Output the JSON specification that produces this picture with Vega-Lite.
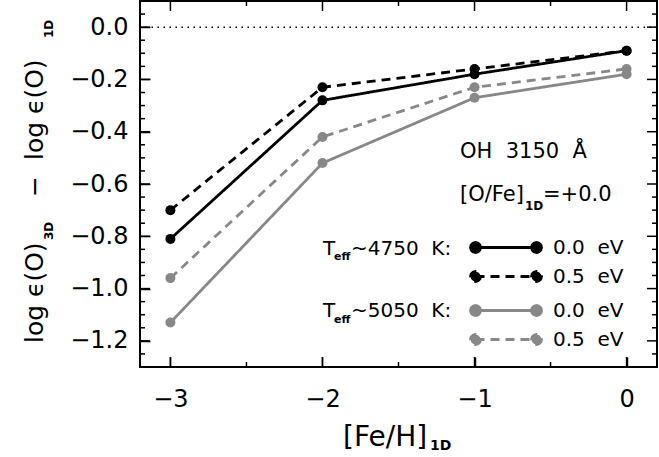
{
  "$schema": "https://vega.github.io/schema/vega-lite/v6.json",
  "width": 517,
  "height": 366,
  "autosize": {"type": "none"},
  "padding": {"left": 140, "top": 1, "right": 2, "bottom": 90},
  "background": "white",
  "config": {
    "view": {"stroke": "black", "strokeWidth": 2, "fill": null},
    "font": "DejaVu Sans",
    "axis": {"grid": false, "domain": false, "tickColor": "black", "tickWidth": 1.5, "labelColor": "black", "labelFont": "DejaVu Sans", "labelFontSize": 24},
    "legend": {"labelFont": "DejaVu Sans", "labelColor": "black"},
    "text": {"font": "DejaVu Sans", "color": "black"}
  },
  "datasets": {
    "oxy": [
      {"feh": -3, "diff": -1.13, "teff": "5050", "ep": "0.0"},
      {"feh": -2, "diff": -0.52, "teff": "5050", "ep": "0.0"},
      {"feh": -1, "diff": -0.27, "teff": "5050", "ep": "0.0"},
      {"feh": 0, "diff": -0.18, "teff": "5050", "ep": "0.0"},
      {"feh": -3, "diff": -0.96, "teff": "5050", "ep": "0.5"},
      {"feh": -2, "diff": -0.42, "teff": "5050", "ep": "0.5"},
      {"feh": -1, "diff": -0.23, "teff": "5050", "ep": "0.5"},
      {"feh": 0, "diff": -0.16, "teff": "5050", "ep": "0.5"},
      {"feh": -3, "diff": -0.81, "teff": "4750", "ep": "0.0"},
      {"feh": -2, "diff": -0.28, "teff": "4750", "ep": "0.0"},
      {"feh": -1, "diff": -0.18, "teff": "4750", "ep": "0.0"},
      {"feh": 0, "diff": -0.09, "teff": "4750", "ep": "0.0"},
      {"feh": -3, "diff": -0.70, "teff": "4750", "ep": "0.5"},
      {"feh": -2, "diff": -0.23, "teff": "4750", "ep": "0.5"},
      {"feh": -1, "diff": -0.16, "teff": "4750", "ep": "0.5"},
      {"feh": 0, "diff": -0.09, "teff": "4750", "ep": "0.5"}
    ],
    "xmajor": [{"v": -3}, {"v": -2}, {"v": -1}, {"v": 0}],
    "xminor": [{"v": -2.5}, {"v": -1.5}, {"v": -0.5}],
    "ymajor": [{"v": -1.2}, {"v": -1.0}, {"v": -0.8}, {"v": -0.6}, {"v": -0.4}, {"v": -0.2}, {"v": 0.0}],
    "yminor": [{"v": -1.25}, {"v": -1.15}, {"v": -1.1}, {"v": -1.05}, {"v": -0.95}, {"v": -0.9}, {"v": -0.85}, {"v": -0.75}, {"v": -0.7}, {"v": -0.65}, {"v": -0.55}, {"v": -0.5}, {"v": -0.45}, {"v": -0.35}, {"v": -0.3}, {"v": -0.25}, {"v": -0.15}, {"v": -0.1}, {"v": -0.05}, {"v": 0.05}]
  },
  "layer": [
    {
      "data": {"values": [{}]},
      "mark": {"type": "rule", "color": "black", "strokeWidth": 1.5, "strokeDash": [1.5, 4.5]},
      "encoding": {
        "y": {"datum": 0, "type": "quantitative", "scale": {"domain": [-1.3, 0.1], "nice": false, "zero": false}, "axis": null}
      }
    },
    {
      "data": {"name": "oxy"},
      "transform": [{"filter": "datum.teff == '5050'"}],
      "mark": {"type": "line", "color": "#888888", "strokeWidth": 2.8},
      "encoding": {
        "x": {"field": "feh", "type": "quantitative", "scale": {"domain": [-3.2, 0.2], "nice": false, "zero": false},
              "axis": {"orient": "bottom", "values": [-3, -2, -1, 0], "format": "d", "offset": -10, "tickSize": 10, "labelPadding": 20, "title": null}},
        "y": {"field": "diff", "type": "quantitative", "scale": {"domain": [-1.3, 0.1], "nice": false, "zero": false},
              "axis": {"orient": "left", "values": [-1.2, -1, -0.8, -0.6, -0.4, -0.2, 0], "format": ".1f", "offset": -10, "tickSize": 10, "labelPadding": 12, "title": null}},
        "strokeDash": {"field": "ep", "type": "nominal",
          "scale": {"domain": ["0.0", "0.5"], "range": [[1, 0], [9, 6]]},
          "legend": {
            "orient": "none", "legendX": 356, "legendY": 299.5, "title": null, "padding": 0,
            "symbolType": "M-6.1,0L6.1,0M-5.1,0L-5.23,0.5L-5.6,0.87L-6.1,1L-6.6,0.87L-6.97,0.5L-7.1,0L-6.97,-0.5L-6.6,-0.87L-6.1,-1L-5.6,-0.87L-5.23,-0.5ZM7.1,0L6.97,0.5L6.6,0.87L6.1,1L5.6,0.87L5.23,0.5L5.1,0L5.23,-0.5L5.6,-0.87L6.1,-1L6.6,-0.87L6.97,-0.5Z",
            "symbolSize": 100, "symbolStrokeWidth": 2.8, "symbolStrokeColor": "#888888", "symbolFillColor": "#888888",
            "labelFontSize": 20, "labelOffset": 37, "rowPadding": 7,
            "labelExpr": "datum.label + '\u00a0\u00a0eV'",
            "encode": {"symbols": {"update": {"fill": {"value": "#888888"}, "stroke": {"value": "#888888"}, "strokeWidth": {"value": 2.8}}}}
          }
        }
      }
    },
    {
      "data": {"name": "oxy"},
      "transform": [{"filter": "datum.teff == '5050'"}],
      "mark": {"type": "point", "filled": true, "size": 100, "color": "#888888", "opacity": 1},
      "encoding": {
        "x": {"field": "feh", "type": "quantitative", "scale": {"domain": [-3.2, 0.2], "nice": false, "zero": false}, "axis": null},
        "y": {"field": "diff", "type": "quantitative", "scale": {"domain": [-1.3, 0.1], "nice": false, "zero": false}, "axis": null}
      }
    },
    {
      "data": {"name": "oxy"},
      "transform": [{"filter": "datum.teff == '4750'"}],
      "mark": {"type": "line", "color": "black", "strokeWidth": 2.8},
      "encoding": {
        "x": {"field": "feh", "type": "quantitative", "scale": {"domain": [-3.2, 0.2], "nice": false, "zero": false}, "axis": null},
        "y": {"field": "diff", "type": "quantitative", "scale": {"domain": [-1.3, 0.1], "nice": false, "zero": false}, "axis": null},
        "strokeDash": {"field": "ep", "type": "nominal",
          "scale": {"domain": ["0.0", "0.5"], "range": [[1, 0], [9, 6]]},
          "legend": {
            "orient": "none", "legendX": 356, "legendY": 236.5, "title": null, "padding": 0,
            "symbolType": "M-6.1,0L6.1,0M-5.1,0L-5.23,0.5L-5.6,0.87L-6.1,1L-6.6,0.87L-6.97,0.5L-7.1,0L-6.97,-0.5L-6.6,-0.87L-6.1,-1L-5.6,-0.87L-5.23,-0.5ZM7.1,0L6.97,0.5L6.6,0.87L6.1,1L5.6,0.87L5.23,0.5L5.1,0L5.23,-0.5L5.6,-0.87L6.1,-1L6.6,-0.87L6.97,-0.5Z",
            "symbolSize": 100, "symbolStrokeWidth": 2.8, "symbolStrokeColor": "black", "symbolFillColor": "black",
            "labelFontSize": 20, "labelOffset": 37, "rowPadding": 7,
            "labelExpr": "datum.label + '\u00a0\u00a0eV'",
            "encode": {"symbols": {"update": {"fill": {"value": "black"}, "stroke": {"value": "black"}, "strokeWidth": {"value": 2.8}}}}
          }
        }
      }
    },
    {
      "data": {"name": "oxy"},
      "transform": [{"filter": "datum.teff == '4750'"}],
      "mark": {"type": "point", "filled": true, "size": 100, "color": "black", "opacity": 1},
      "encoding": {
        "x": {"field": "feh", "type": "quantitative", "scale": {"domain": [-3.2, 0.2], "nice": false, "zero": false}, "axis": null},
        "y": {"field": "diff", "type": "quantitative", "scale": {"domain": [-1.3, 0.1], "nice": false, "zero": false}, "axis": null}
      }
    },
    {
      "data": {"name": "xmajor"},
      "mark": {"type": "rule", "color": "black", "strokeWidth": 1.5},
      "encoding": {
        "x": {"field": "v", "type": "quantitative", "scale": {"domain": [-3.2, 0.2], "nice": false, "zero": false}, "axis": null},
        "y": {"datum": -1.3, "type": "quantitative", "scale": {"domain": [-1.3, 0.1], "nice": false, "zero": false}, "axis": null},
        "y2": {"datum": -1.2618}
      }
    },
    {
      "data": {"name": "xmajor"},
      "mark": {"type": "rule", "color": "black", "strokeWidth": 1.5},
      "encoding": {
        "x": {"field": "v", "type": "quantitative", "scale": {"domain": [-3.2, 0.2], "nice": false, "zero": false}, "axis": null},
        "y": {"datum": 0.1, "type": "quantitative", "scale": {"domain": [-1.3, 0.1], "nice": false, "zero": false}, "axis": null},
        "y2": {"datum": 0.0618}
      }
    },
    {
      "data": {"name": "xminor"},
      "mark": {"type": "rule", "color": "black", "strokeWidth": 1.5},
      "encoding": {
        "x": {"field": "v", "type": "quantitative", "scale": {"domain": [-3.2, 0.2], "nice": false, "zero": false}, "axis": null},
        "y": {"datum": -1.3, "type": "quantitative", "scale": {"domain": [-1.3, 0.1], "nice": false, "zero": false}, "axis": null},
        "y2": {"datum": -1.2809}
      }
    },
    {
      "data": {"name": "xminor"},
      "mark": {"type": "rule", "color": "black", "strokeWidth": 1.5},
      "encoding": {
        "x": {"field": "v", "type": "quantitative", "scale": {"domain": [-3.2, 0.2], "nice": false, "zero": false}, "axis": null},
        "y": {"datum": 0.1, "type": "quantitative", "scale": {"domain": [-1.3, 0.1], "nice": false, "zero": false}, "axis": null},
        "y2": {"datum": 0.0809}
      }
    },
    {
      "data": {"name": "ymajor"},
      "mark": {"type": "rule", "color": "black", "strokeWidth": 1.5},
      "encoding": {
        "y": {"field": "v", "type": "quantitative", "scale": {"domain": [-1.3, 0.1], "nice": false, "zero": false}, "axis": null},
        "x": {"datum": -3.2, "type": "quantitative", "scale": {"domain": [-3.2, 0.2], "nice": false, "zero": false}, "axis": null},
        "x2": {"datum": -3.1342}
      }
    },
    {
      "data": {"name": "ymajor"},
      "mark": {"type": "rule", "color": "black", "strokeWidth": 1.5},
      "encoding": {
        "y": {"field": "v", "type": "quantitative", "scale": {"domain": [-1.3, 0.1], "nice": false, "zero": false}, "axis": null},
        "x": {"datum": 0.2, "type": "quantitative", "scale": {"domain": [-3.2, 0.2], "nice": false, "zero": false}, "axis": null},
        "x2": {"datum": 0.1342}
      }
    },
    {
      "data": {"name": "yminor"},
      "mark": {"type": "rule", "color": "black", "strokeWidth": 1.5},
      "encoding": {
        "y": {"field": "v", "type": "quantitative", "scale": {"domain": [-1.3, 0.1], "nice": false, "zero": false}, "axis": null},
        "x": {"datum": -3.2, "type": "quantitative", "scale": {"domain": [-3.2, 0.2], "nice": false, "zero": false}, "axis": null},
        "x2": {"datum": -3.1671}
      }
    },
    {
      "data": {"name": "yminor"},
      "mark": {"type": "rule", "color": "black", "strokeWidth": 1.5},
      "encoding": {
        "y": {"field": "v", "type": "quantitative", "scale": {"domain": [-1.3, 0.1], "nice": false, "zero": false}, "axis": null},
        "x": {"datum": 0.2, "type": "quantitative", "scale": {"domain": [-3.2, 0.2], "nice": false, "zero": false}, "axis": null},
        "x2": {"datum": 0.1671}
      }
    },
    {
      "data": {"values": [{}]},
      "mark": {"type": "text", "text": "OH\u00a0\u00a03150\u00a0\u00a0\u00c5", "align": "left", "baseline": "alphabetic", "fontSize": 21},
      "encoding": {
        "x": {"datum": -1.0956, "type": "quantitative", "scale": {"domain": [-3.2, 0.2], "nice": false, "zero": false}, "axis": null},
        "y": {"datum": -0.5017, "type": "quantitative", "scale": {"domain": [-1.3, 0.1], "nice": false, "zero": false}, "axis": null}
      }
    },
    {
      "data": {"values": [{}]},
      "mark": {"type": "text", "text": "[O/Fe]", "align": "left", "baseline": "alphabetic", "fontSize": 21},
      "encoding": {
        "x": {"datum": -1.0956, "type": "quantitative", "scale": {"domain": [-3.2, 0.2], "nice": false, "zero": false}, "axis": null},
        "y": {"datum": -0.6639, "type": "quantitative", "scale": {"domain": [-1.3, 0.1], "nice": false, "zero": false}, "axis": null}
      }
    },
    {
      "data": {"values": [{}]},
      "mark": {"type": "text", "text": "1D", "align": "left", "baseline": "alphabetic", "fontSize": 12, "fontWeight": "bold"},
      "encoding": {
        "x": {"datum": -0.6681, "type": "quantitative", "scale": {"domain": [-3.2, 0.2], "nice": false, "zero": false}, "axis": null},
        "y": {"datum": -0.6995, "type": "quantitative", "scale": {"domain": [-1.3, 0.1], "nice": false, "zero": false}, "axis": null}
      }
    },
    {
      "data": {"values": [{}]},
      "mark": {"type": "text", "text": "=+0.0", "align": "left", "baseline": "alphabetic", "fontSize": 21},
      "encoding": {
        "x": {"datum": -0.5497, "type": "quantitative", "scale": {"domain": [-3.2, 0.2], "nice": false, "zero": false}, "axis": null},
        "y": {"datum": -0.6639, "type": "quantitative", "scale": {"domain": [-1.3, 0.1], "nice": false, "zero": false}, "axis": null}
      }
    },
    {
      "data": {"values": [{}]},
      "mark": {"type": "text", "text": "T", "align": "left", "baseline": "alphabetic", "fontSize": 20},
      "encoding": {
        "x": {"datum": -1.9965, "type": "quantitative", "scale": {"domain": [-3.2, 0.2], "nice": false, "zero": false}, "axis": null},
        "y": {"datum": -0.8716, "type": "quantitative", "scale": {"domain": [-1.3, 0.1], "nice": false, "zero": false}, "axis": null}
      }
    },
    {
      "data": {"values": [{}]},
      "mark": {"type": "text", "text": "eff", "align": "left", "baseline": "alphabetic", "fontSize": 11, "fontWeight": "bold"},
      "encoding": {
        "x": {"datum": -1.9242, "type": "quantitative", "scale": {"domain": [-3.2, 0.2], "nice": false, "zero": false}, "axis": null},
        "y": {"datum": -0.8926, "type": "quantitative", "scale": {"domain": [-1.3, 0.1], "nice": false, "zero": false}, "axis": null}
      }
    },
    {
      "data": {"values": [{}]},
      "mark": {"type": "text", "text": "~4750\u00a0\u00a0K:", "align": "left", "baseline": "alphabetic", "fontSize": 20},
      "encoding": {
        "x": {"datum": -1.8124, "type": "quantitative", "scale": {"domain": [-3.2, 0.2], "nice": false, "zero": false}, "axis": null},
        "y": {"datum": -0.8716, "type": "quantitative", "scale": {"domain": [-1.3, 0.1], "nice": false, "zero": false}, "axis": null}
      }
    },
    {
      "data": {"values": [{}]},
      "mark": {"type": "text", "text": "T", "align": "left", "baseline": "alphabetic", "fontSize": 20},
      "encoding": {
        "x": {"datum": -1.9965, "type": "quantitative", "scale": {"domain": [-3.2, 0.2], "nice": false, "zero": false}, "axis": null},
        "y": {"datum": -1.1099, "type": "quantitative", "scale": {"domain": [-1.3, 0.1], "nice": false, "zero": false}, "axis": null}
      }
    },
    {
      "data": {"values": [{}]},
      "mark": {"type": "text", "text": "eff", "align": "left", "baseline": "alphabetic", "fontSize": 11, "fontWeight": "bold"},
      "encoding": {
        "x": {"datum": -1.9242, "type": "quantitative", "scale": {"domain": [-3.2, 0.2], "nice": false, "zero": false}, "axis": null},
        "y": {"datum": -1.1309, "type": "quantitative", "scale": {"domain": [-1.3, 0.1], "nice": false, "zero": false}, "axis": null}
      }
    },
    {
      "data": {"values": [{}]},
      "mark": {"type": "text", "text": "~5050\u00a0\u00a0K:", "align": "left", "baseline": "alphabetic", "fontSize": 20},
      "encoding": {
        "x": {"datum": -1.8124, "type": "quantitative", "scale": {"domain": [-3.2, 0.2], "nice": false, "zero": false}, "axis": null},
        "y": {"datum": -1.1099, "type": "quantitative", "scale": {"domain": [-1.3, 0.1], "nice": false, "zero": false}, "axis": null}
      }
    },
    {
      "data": {"values": [{}]},
      "mark": {"type": "text", "text": "[Fe/H]", "align": "left", "baseline": "alphabetic", "fontSize": 28},
      "encoding": {
        "x": {"datum": -1.865, "type": "quantitative", "scale": {"domain": [-3.2, 0.2], "nice": false, "zero": false}, "axis": null},
        "y": {"datum": -1.6022, "type": "quantitative", "scale": {"domain": [-1.3, 0.1], "nice": false, "zero": false}, "axis": null}
      }
    },
    {
      "data": {"values": [{}]},
      "mark": {"type": "text", "text": "1D", "align": "left", "baseline": "alphabetic", "fontSize": 14, "fontWeight": "bold"},
      "encoding": {
        "x": {"datum": -1.2928, "type": "quantitative", "scale": {"domain": [-3.2, 0.2], "nice": false, "zero": false}, "axis": null},
        "y": {"datum": -1.6175, "type": "quantitative", "scale": {"domain": [-1.3, 0.1], "nice": false, "zero": false}, "axis": null}
      }
    },
    {
      "data": {"values": [{}]},
      "mark": {"type": "text", "text": "log\u00a0\u03f5(O)", "align": "left", "baseline": "alphabetic", "fontSize": 25, "angle": 270},
      "encoding": {
        "x": {"datum": -3.8379, "type": "quantitative", "scale": {"domain": [-3.2, 0.2], "nice": false, "zero": false}, "axis": null},
        "y": {"datum": -1.2082, "type": "quantitative", "scale": {"domain": [-1.3, 0.1], "nice": false, "zero": false}, "axis": null}
      }
    },
    {
      "data": {"values": [{}]},
      "mark": {"type": "text", "text": "3D", "align": "left", "baseline": "alphabetic", "fontSize": 12, "fontWeight": "bold", "angle": 270},
      "encoding": {
        "x": {"datum": -3.7721, "type": "quantitative", "scale": {"domain": [-3.2, 0.2], "nice": false, "zero": false}, "axis": null},
        "y": {"datum": -0.8142, "type": "quantitative", "scale": {"domain": [-1.3, 0.1], "nice": false, "zero": false}, "axis": null}
      }
    },
    {
      "data": {"values": [{}]},
      "mark": {"type": "text", "text": "\u2212", "align": "left", "baseline": "alphabetic", "fontSize": 25, "angle": 270},
      "encoding": {
        "x": {"datum": -3.8379, "type": "quantitative", "scale": {"domain": [-3.2, 0.2], "nice": false, "zero": false}, "axis": null},
        "y": {"datum": -0.6497, "type": "quantitative", "scale": {"domain": [-1.3, 0.1], "nice": false, "zero": false}, "axis": null}
      }
    },
    {
      "data": {"values": [{}]},
      "mark": {"type": "text", "text": "log\u00a0\u03f5(O)", "align": "left", "baseline": "alphabetic", "fontSize": 25, "angle": 270},
      "encoding": {
        "x": {"datum": -3.8379, "type": "quantitative", "scale": {"domain": [-3.2, 0.2], "nice": false, "zero": false}, "axis": null},
        "y": {"datum": -0.5082, "type": "quantitative", "scale": {"domain": [-1.3, 0.1], "nice": false, "zero": false}, "axis": null}
      }
    },
    {
      "data": {"values": [{}]},
      "mark": {"type": "text", "text": "1D", "align": "left", "baseline": "alphabetic", "fontSize": 12, "fontWeight": "bold", "angle": 270},
      "encoding": {
        "x": {"datum": -3.7721, "type": "quantitative", "scale": {"domain": [-3.2, 0.2], "nice": false, "zero": false}, "axis": null},
        "y": {"datum": -0.0415, "type": "quantitative", "scale": {"domain": [-1.3, 0.1], "nice": false, "zero": false}, "axis": null}
      }
    }
  ],
  "resolve": {
    "scale": {"strokeDash": "independent"},
    "legend": {"strokeDash": "independent"},
    "axis": {"x": "independent", "y": "independent"}
  }
}
